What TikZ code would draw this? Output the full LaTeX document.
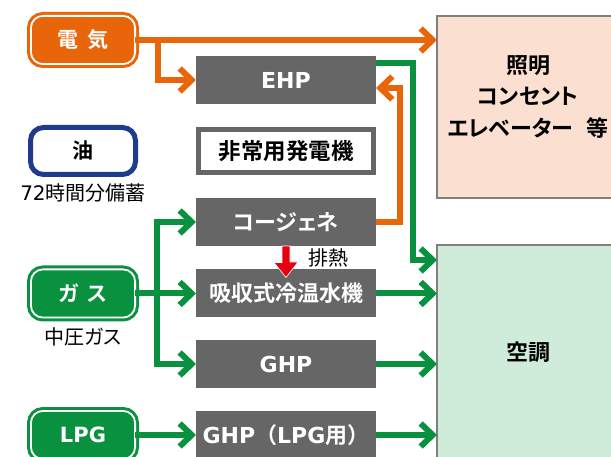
\documentclass[tikz,border=0pt]{standalone}
\usepackage{fontspec}
\usetikzlibrary{arrows.meta,calc}
\newfontfamily\jp{Noto Sans CJK JP}[BoldFont={Noto Sans CJK JP Bold}]
\newfontfamily\jpp{Noto Sans CJK JP}[BoldFont={Noto Sans CJK JP Bold},RawFeature=+palt]
\newfontfamily\lat{DejaVu Sans}
\definecolor{elecO}{HTML}{E8650A}
\definecolor{gasG}{HTML}{0A9140}
\definecolor{oilB}{HTML}{1F3C8C}
\definecolor{boxgray}{HTML}{666666}
\definecolor{edgegray}{HTML}{7F7F7F}
\definecolor{peach}{HTML}{FBE0D1}
\definecolor{mint}{HTML}{CFEBD9}
\definecolor{heatR}{HTML}{E60012}
\begin{document}
\begin{tikzpicture}[x=1pt,y=-1pt,
  graybox/.style={fill=boxgray, minimum width=180pt, minimum height=48pt,
    inner sep=0pt, outer sep=0pt, text=white,
    font=\fontsize{22}{26}\selectfont\jp\bfseries},
  srcbox/.style={fill=#1, draw=#1, rounded corners=12pt, line width=3pt,
    double=white, double distance=1.8pt, minimum width=104.2pt,
    minimum height=48.2pt, inner sep=0pt, outer sep=0pt, text=white,
    font=\fontsize{21}{24}\selectfont\jp\bfseries},
  arrowline/.style={draw=#1, line width=6pt, line join=miter, line cap=butt,
    -{Straight Barb[length=12pt,width=23pt,sharp]}},
  lbl/.style={inner sep=0pt, font=\fontsize{20}{23}\selectfont\jp},
  edge/.style={draw=edgegray, line width=2pt}
]
\useasboundingbox (0,0) rectangle (611,457);

% destination boxes
\node[fill=peach, minimum width=174pt, minimum height=182pt, inner sep=0pt, outer sep=0pt] (light) at (524,107) {};
\draw[edge] (light.north east) -- (light.north west) -- (light.south west) -- (light.south east);
\node[align=center, inner sep=0pt, font=\fontsize{22}{31.5}\selectfont\jpp\bfseries] (lighttxt) at (528,97)
  {照明\\コンセント\\エレベーター\hspace{0.6em}等};

\node[fill=mint, minimum width=174pt, minimum height=212pt, inner sep=0pt, outer sep=0pt] (ac) at (524,351) {};
\draw[edge] (ac.north east) -- (ac.north west) -- (ac.south west);
\node[inner sep=0pt, font=\fontsize{22}{26}\selectfont\jp\bfseries] (actxt) at (528,352) {空調};

% sources
\node[srcbox=elecO] (elec) at (83,40) {電\hspace{0.45em}気};
\node[draw=oilB, fill=white, line width=5pt, rounded corners=13pt, minimum width=105pt,
  minimum height=47pt, inner sep=0pt, outer sep=0pt,
  font=\fontsize{21}{24}\selectfont\jp\bfseries] (oil) at (83,151) {油};
\node[lbl] (oilnote) at (83,193) {{\lat 72}時間分備蓄};
\node[srcbox=gasG] (gas) at (83,293.5) {\jpp ガ\hspace{0.45em}ス};
\node[lbl] (gasnote) at (83,337) {\jpp 中圧ガス};
\node[srcbox=gasG] (lpg) at (83,435) {\lat\bfseries LPG};

% equipment
\node[graybox] (ehp) at (286,80) {\lat\bfseries EHP};
\node[draw=boxgray, fill=white, line width=5pt, minimum width=175pt, minimum height=43pt,
  inner sep=0pt, outer sep=0pt, font=\fontsize{22.5}{26}\selectfont\jp\bfseries] (emerg) at (286,151) {非常用発電機};
\node[graybox] (cogen) at (286,222) {\jpp\bfseries コージェネ};
\node[graybox] (absorb) at (286,293.5) {吸収式冷温水機};
\node[graybox] (ghp) at (286,364) {\lat\bfseries GHP};
\node[graybox] (lpgghp) at (286,435) {{\lat\bfseries GHP}（{\lat\bfseries LPG}用）};

% orange connectors
\draw[arrowline=elecO] (elec.east) -- (elec.east -| light.west);
\coordinate (ebr) at (158,40);
\draw[arrowline=elecO] (ebr) |- (ehp.west);
\coordinate (cgx) at (400,150);
\draw[arrowline=elecO] (cogen.east) -| (cgx) |- ([yshift=-8pt]ehp.east);

% green connectors
\coordinate (ehx) at (413,260);
\draw[arrowline=gasG] ([yshift=17pt]ehp.east) -| (ehx) -- (ehx -| ac.west);
\coordinate (gbr) at (157,293.5);
\draw[arrowline=gasG] (gas.east) -- (absorb.west);
\draw[arrowline=gasG] (gbr) |- (cogen.west);
\draw[arrowline=gasG] (gbr) |- (ghp.west);
\draw[arrowline=gasG] (absorb.east) -- (absorb.east -| ac.west);
\draw[arrowline=gasG] (ghp.east) -- (ghp.east -| ac.west);
\draw[arrowline=gasG] (lpg.east) -- (lpgghp.west);
\draw[arrowline=gasG] (lpgghp.east) -- (lpgghp.east -| ac.west);

% waste heat arrow
\fill[heatR, draw=white, line width=0.6pt] ($(cogen.south)+(-4,0)$) -- ($(cogen.south)+(4,0)$)
  -- ++(0,16) -- ++(8,0) -- ($(absorb.north)+(0,8)$) -- ++(-12,-15) -- ++(8,0) -- cycle;
\node[lbl] (heatnote) at (328,258) {排熱};
\end{tikzpicture}
\end{document}
